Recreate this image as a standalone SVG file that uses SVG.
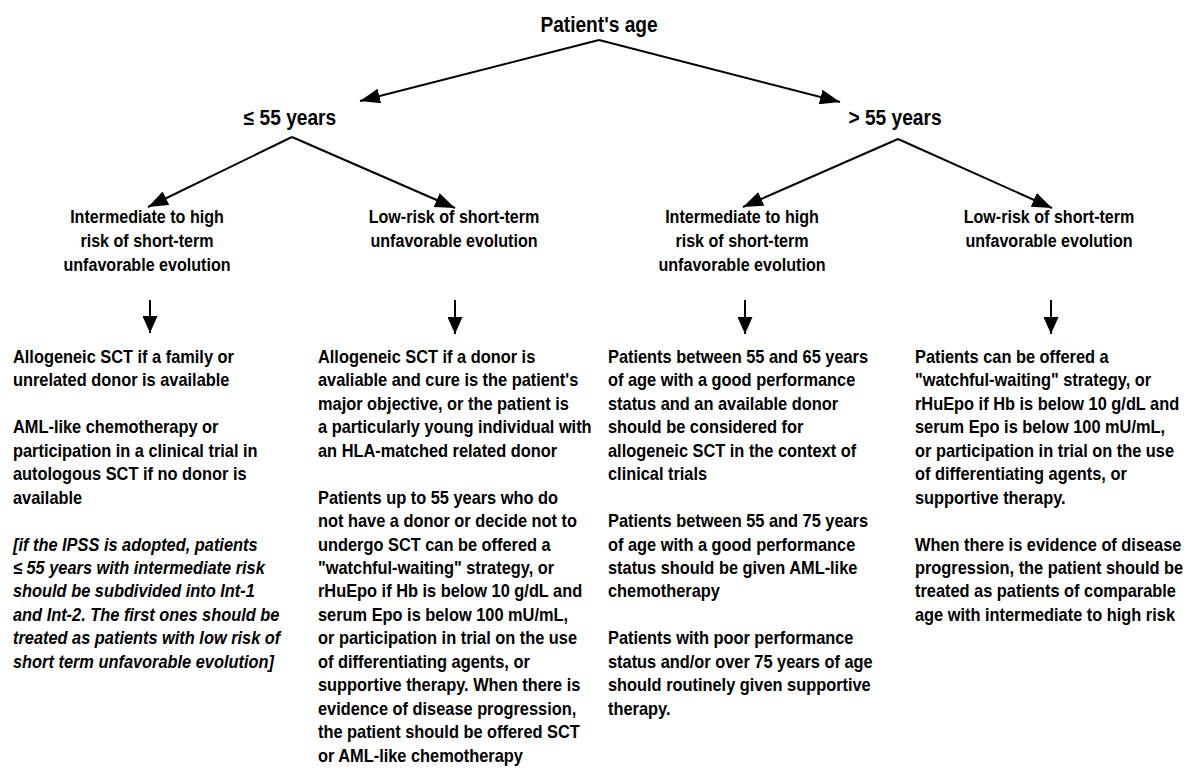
<svg xmlns="http://www.w3.org/2000/svg" width="1185" height="781" viewBox="0 0 1185 781">
<defs>
<marker id="ah" viewBox="0 0 20 15" refX="20" refY="7.5" markerWidth="20" markerHeight="15" markerUnits="userSpaceOnUse" orient="auto">
<path d="M0,0 L20,7.5 L0,15 Z" fill="#000"/>
</marker>
<marker id="av" viewBox="0 0 17 15" refX="17" refY="7.5" markerWidth="17" markerHeight="15" markerUnits="userSpaceOnUse" orient="auto">
<path d="M0,0 L17,7.5 L0,15 Z" fill="#000"/>
</marker>
<style>
text{font-family:"Liberation Sans",Arial,sans-serif;font-weight:bold;fill:#000}
.h{font-size:21.5px;text-anchor:middle}
.m{font-size:18.5px;text-anchor:middle}
.b{font-size:18px}
.i{font-style:italic}
.c line{stroke:#000;stroke-width:2}
.d{marker-end:url(#ah)}
.v{marker-end:url(#av)}
</style>
</defs>
<rect width="1185" height="781" fill="#fff"/>
<g class="c" id="connectors">
<line class="d" x1="599" y1="40" x2="360" y2="101"/>
<line class="d" x1="599" y1="40" x2="840" y2="102"/>
<line class="d" x1="292" y1="137" x2="148" y2="207"/>
<line class="d" x1="292" y1="137" x2="455" y2="208"/>
<line class="d" x1="898" y1="139" x2="743" y2="207"/>
<line class="d" x1="898" y1="139" x2="1052" y2="208"/>
<line class="v" x1="150" y1="300" x2="150" y2="333"/>
<line class="v" x1="455" y1="300" x2="455" y2="334"/>
<line class="v" x1="745" y1="300" x2="745" y2="334"/>
<line class="v" x1="1051" y1="300" x2="1051" y2="334"/>
</g>
<g id="root" transform="translate(599,0) scale(0.89,1)"><text class="h" x="0" y="32">Patient's age</text></g>
<g id="le55" transform="translate(290,0) scale(0.89,1)"><text class="h" x="0" y="125">≤ 55 years</text></g>
<g id="gt55" transform="translate(895,0) scale(0.89,1)"><text class="h" x="0" y="125">&gt; 55 years</text></g>
<g id="young-high" transform="translate(147,0) scale(0.87,1)"><text class="m" x="0" y="223">Intermediate to high</text><text class="m" x="0" y="247">risk of short-term</text><text class="m" x="0" y="271">unfavorable evolution</text></g>
<g id="young-low" transform="translate(454,0) scale(0.87,1)"><text class="m" x="0" y="223">Low-risk of short-term</text><text class="m" x="0" y="247">unfavorable evolution</text></g>
<g id="old-high" transform="translate(742,0) scale(0.87,1)"><text class="m" x="0" y="223">Intermediate to high</text><text class="m" x="0" y="247">risk of short-term</text><text class="m" x="0" y="271">unfavorable evolution</text></g>
<g id="old-low" transform="translate(1049,0) scale(0.87,1)"><text class="m" x="0" y="223">Low-risk of short-term</text><text class="m" x="0" y="247">unfavorable evolution</text></g>
<g id="young-high-tx" transform="translate(13,0) scale(0.91,1)">
<text class="b" x="0" y="363">Allogeneic SCT if a family or</text>
<text class="b" x="0" y="386.45">unrelated donor is available</text>
<text class="b" x="0" y="433.35">AML-like chemotherapy  or</text>
<text class="b" x="0" y="456.8">participation in a clinical trial in</text>
<text class="b" x="0" y="480.25">autologous SCT if no donor is</text>
<text class="b" x="0" y="503.7">available</text>
<text class="b i" x="0" y="550.6">[if the IPSS is adopted, patients</text>
<text class="b i" x="0" y="574.05">≤ 55 years with intermediate risk</text>
<text class="b i" x="0" y="597.5">should be subdivided into Int-1</text>
<text class="b i" x="0" y="620.95">and Int-2. The first ones should be</text>
<text class="b i" x="0" y="644.4">treated as patients with low risk of</text>
<text class="b i" x="0" y="667.85">short term unfavorable evolution]</text>
</g>
<g id="young-low-tx" transform="translate(318,0) scale(0.91,1)">
<text class="b" x="0" y="363">Allogeneic SCT if a donor is</text>
<text class="b" x="0" y="386.45">avaliable and cure is the patient's</text>
<text class="b" x="0" y="409.9">major objective, or the patient is</text>
<text class="b" x="0" y="433.35">a particularly young individual with</text>
<text class="b" x="0" y="456.8">an HLA-matched related donor</text>
<text class="b" x="0" y="503.7">Patients up to 55 years who do</text>
<text class="b" x="0" y="527.15">not have a donor or decide not to</text>
<text class="b" x="0" y="550.6">undergo SCT can be offered  a</text>
<text class="b" x="0" y="574.05">"watchful-waiting" strategy, or</text>
<text class="b" x="0" y="597.5">rHuEpo if Hb is below 10 g/dL and</text>
<text class="b" x="0" y="620.95">serum Epo is below 100 mU/mL,</text>
<text class="b" x="0" y="644.4">or participation in trial on the use</text>
<text class="b" x="0" y="667.85">of differentiating agents, or</text>
<text class="b" x="0" y="691.3">supportive therapy. When there is</text>
<text class="b" x="0" y="714.75">evidence of disease progression,</text>
<text class="b" x="0" y="738.2">the patient should be offered SCT</text>
<text class="b" x="0" y="761.65">or AML-like chemotherapy</text>
</g>
<g id="old-high-tx" transform="translate(608,0) scale(0.91,1)">
<text class="b" x="0" y="363">Patients between 55 and 65 years</text>
<text class="b" x="0" y="386.45">of age with a good performance</text>
<text class="b" x="0" y="409.9">status and an available donor</text>
<text class="b" x="0" y="433.35">should be considered for</text>
<text class="b" x="0" y="456.8">allogeneic SCT in the context of</text>
<text class="b" x="0" y="480.25">clinical trials</text>
<text class="b" x="0" y="527.15">Patients between 55 and 75 years</text>
<text class="b" x="0" y="550.6">of age with a good performance</text>
<text class="b" x="0" y="574.05">status should be given AML-like</text>
<text class="b" x="0" y="597.5">chemotherapy</text>
<text class="b" x="0" y="644.4">Patients with poor performance</text>
<text class="b" x="0" y="667.85">status and/or over 75 years of age</text>
<text class="b" x="0" y="691.3">should routinely given supportive</text>
<text class="b" x="0" y="714.75">therapy.</text>
</g>
<g id="old-low-tx" transform="translate(915,0) scale(0.91,1)">
<text class="b" x="0" y="363">Patients can be offered a</text>
<text class="b" x="0" y="386.45">"watchful-waiting" strategy, or</text>
<text class="b" x="0" y="409.9">rHuEpo if Hb is below 10 g/dL and</text>
<text class="b" x="0" y="433.35">serum Epo is below 100 mU/mL,</text>
<text class="b" x="0" y="456.8">or participation in trial on the use</text>
<text class="b" x="0" y="480.25">of differentiating agents, or</text>
<text class="b" x="0" y="503.7">supportive therapy.</text>
<text class="b" x="0" y="550.6">When there is evidence of disease</text>
<text class="b" x="0" y="574.05">progression, the patient should be</text>
<text class="b" x="0" y="597.5">treated as patients of comparable</text>
<text class="b" x="0" y="620.95">age with intermediate to high risk</text>
</g>
</svg>
